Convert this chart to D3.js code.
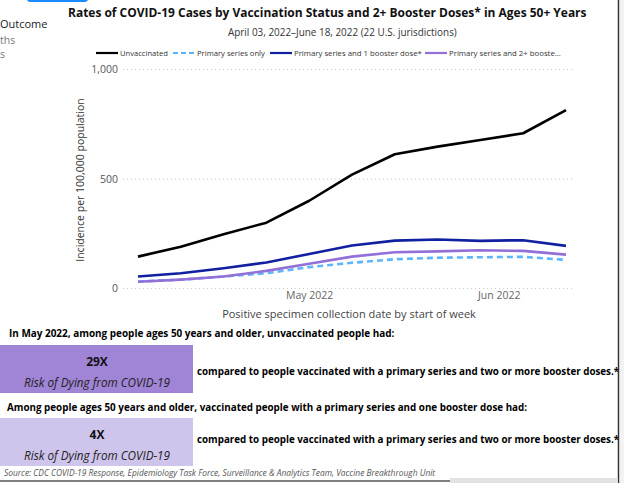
<!DOCTYPE html>
<html>
<head>
<meta charset="utf-8">
<script src="https://cdn.jsdelivr.net/npm/d3@7"></script>
<style>
  body { margin: 0; background: #fff; }
  svg { display: block; font-family: "Open Sans", sans-serif; }
</style>
</head>
<body>
<div id="chart"></div>
<script>
// week start dates (Sunday) of the MMWR weeks shown
var weeks = ["2022-04-03", "2022-04-10", "2022-04-17", "2022-04-24", "2022-05-01", "2022-05-08",
             "2022-05-15", "2022-05-22", "2022-05-29", "2022-06-05", "2022-06-12"];
var unvaccinated = [146, 191, 248, 301, 401, 520, 613, 648, 678, 709, 815];
var primaryOnly  = [32, 41, 55, 70, 98, 118, 134, 141, 143, 145, 131];
var oneBooster   = [55, 70, 93, 119, 158, 197, 219, 224, 218, 221, 195];
var twoBooster   = [31, 41, 55, 81, 113, 146, 166, 170, 175, 172, 155];
var seriesNames  = ["Unvaccinated", "Primary series only", "Primary series and 1 booster dose*", "Primary series and 2+ booste..."];
var yTicks = [0, 500, 1000];
var xTicks = ["2022-05-01", "2022-06-01"];

var W = 624, H = 483;
var parse = d3.timeParse("%Y-%m-%d");
var dates = weeks.map(parse);

var svg = d3.select("#chart").append("svg")
    .attr("width", W)
    .attr("height", H);

// squeeze/stretch a text to the width it has in the picture
function fit(t, w) {
    var len = t.node().getComputedTextLength();
    var fs = parseFloat(t.style("font-size"));
    t.style("font-size", (fs * w / len) + "px");
    return t;
}

// bits of the screenshot frame (a slicer cut off at the left edge)
svg.append("rect").attr("x", 27).attr("y", -4).attr("width", 61).attr("height", 6)
    .attr("rx", 3).attr("fill", "#1a8cff");
svg.append("text").attr("x", 0).attr("y", 28)
    .style("font-size", "11px").style("fill", "#222").text("Outcome");
svg.append("text").attr("x", 0).attr("y", 44)
    .style("font-size", "10.5px").style("fill", "#777").text("ths");
svg.append("text").attr("x", 0).attr("y", 58)
    .style("font-size", "10.5px").style("fill", "#777").text("s");

// titles
fit(svg.append("text").attr("x", 68).attr("y", 17)
    .style("font-size", "14px").style("font-weight", "bold").style("fill", "#111")
    .text("Rates of COVID-19 Cases by Vaccination Status and 2+ Booster Doses* in Ages 50+ Years"), 519);
fit(svg.append("text").attr("x", 228).attr("y", 36)
    .style("font-size", "11px").style("fill", "#333")
    .text("April 03, 2022\u2013June 18, 2022 (22 U.S. jurisdictions)"), 229);

var x = d3.scaleTime().domain([dates[0], dates[dates.length - 1]]).range([138, 566]);
var y = d3.scaleLinear().domain([0, 1000]).range([288.6, 69.5]);

// gridlines
svg.append("g").selectAll("line")
    .data(yTicks)
    .enter()
    .append("line")
    .attr("x1", 123).attr("x2", 573)
    .attr("y1", function (d) { return y(d); })
    .attr("y2", function (d) { return y(d); })
    .attr("stroke", "#c8c8c8")
    .attr("stroke-width", 1)
    .attr("stroke-dasharray", "1,3");

// y axis
var yAxis = svg.append("g")
    .attr("transform", "translate(118,0)")
    .call(d3.axisLeft(y).tickValues(yTicks).tickSize(0).tickPadding(0).tickFormat(d3.format(",")));
yAxis.select(".domain").remove();
yAxis.selectAll("text").style("font-size", "10.5px").style("fill", "#555").style("font-family", "Open Sans");

svg.append("text")
    .attr("transform", "translate(84,180) rotate(-90)")
    .attr("text-anchor", "middle")
    .style("font-size", "10.5px").style("fill", "#333")
    .text("Incidence per 100,000 population");

// x axis
var xAxis = svg.append("g")
    .attr("transform", "translate(0,292)")
    .call(d3.axisBottom(x).tickValues(xTicks.map(parse)).tickSize(0).tickPadding(0).tickFormat(d3.timeFormat("%b %Y")));
xAxis.select(".domain").remove();
xAxis.selectAll("text").style("font-size", "10.5px").style("fill", "#666").style("font-family", "Open Sans");

svg.append("text")
    .attr("x", 349).attr("y", 318)
    .attr("text-anchor", "middle")
    .style("font-size", "11px").style("fill", "#444")
    .text("Positive specimen collection date by start of week");

// lines
var series = [
    { values: unvaccinated, color: "#000000", dash: null },
    { values: primaryOnly, color: "#5db5fb", dash: "6,4" },
    { values: oneBooster, color: "#1020a0", dash: null },
    { values: twoBooster, color: "#9270d8", dash: null }
];
var line = d3.line()
    .x(function (d, i) { return x(dates[i]); })
    .y(function (d) { return y(d); });

svg.append("g").selectAll("path")
    .data([series[1], series[3], series[2], series[0]])
    .enter()
    .append("path")
    .attr("d", function (d) { return line(d.values); })
    .attr("fill", "none")
    .attr("stroke", function (d) { return d.color; })
    .attr("stroke-width", 2.6)
    .attr("stroke-dasharray", function (d) { return d.dash; })
    .attr("stroke-linejoin", "round");

// legend
var legX = [96, 173, 270, 425];
var legTextW = [48, 68, 128, 112];
var leg = svg.append("g").selectAll("g")
    .data(series)
    .enter()
    .append("g")
    .attr("transform", function (d, i) { return "translate(" + legX[i] + ",53)"; });
leg.append("line")
    .attr("x1", 0).attr("x2", 22)
    .attr("stroke", function (d) { return d.color; })
    .attr("stroke-width", 2.2)
    .attr("stroke-dasharray", function (d) { return d.dash ? "5,3" : null; });
leg.append("text")
    .attr("x", 24).attr("y", 3)
    .style("font-size", "9.5px").style("fill", "#333")
    .text(function (d, i) { return seriesNames[i]; })
    .each(function (d, i) { fit(d3.select(this), legTextW[i]); });

// statements below the chart
function bold(txt, x0, y0, w) {
    return fit(svg.append("text").attr("x", x0).attr("y", y0)
        .style("font-size", "11px").style("font-weight", "bold").style("fill", "#000")
        .text(txt), w);
}
bold("In May 2022, among people ages 50 years and older, unvaccinated people had:", 9, 337, 386);
bold("compared to people vaccinated with a primary series and two or more booster doses.*", 197, 375, 423);
bold("Among people ages 50 years and older, vaccinated people with a primary series and one booster dose had:", 7, 411, 521);
bold("compared to people vaccinated with a primary series and two or more booster doses.*", 197, 443, 423);

var ratios = ["29X", "4X"];
var boxY = [345, 418];
var boxH = [48, 48];
var boxColors = ["#a084d5", "#cfc4ec"];
var boxes = svg.append("g").selectAll("g")
    .data(ratios)
    .enter()
    .append("g");
boxes.append("rect")
    .attr("x", 0)
    .attr("y", function (d, i) { return boxY[i]; })
    .attr("width", 193)
    .attr("height", function (d, i) { return boxH[i]; })
    .attr("fill", function (d, i) { return boxColors[i]; });
boxes.append("text")
    .attr("x", 97)
    .attr("y", function (d, i) { return boxY[i] + 21; })
    .attr("text-anchor", "middle")
    .style("font-size", "12px").style("font-weight", "bold").style("fill", "#111")
    .text(function (d) { return d; });
boxes.append("text")
    .attr("x", 97)
    .attr("y", function (d, i) { return boxY[i] + 42; })
    .attr("text-anchor", "middle")
    .style("font-size", "12.5px").style("font-style", "italic").style("fill", "#222")
    .text("Risk of Dying from COVID-19")
    .each(function () { fit(d3.select(this), 146); });

fit(svg.append("text").attr("x", 4).attr("y", 476)
    .style("font-size", "9px").style("font-style", "italic").style("fill", "#555")
    .text("Source: CDC COVID-19 Response, Epidemiology Task Force, Surveillance & Analytics Team, Vaccine Breakthrough Unit"), 432);

// frame edges
svg.append("line").attr("x1", 618.5).attr("x2", 618.5).attr("y1", 0).attr("y2", H)
    .attr("stroke", "#333").attr("stroke-width", 1.5);
svg.append("rect").attr("x", 620).attr("y", 0).attr("width", 4).attr("height", H).attr("fill", "#f3f3f3");
svg.append("line").attr("x1", 0).attr("x2", 450).attr("y1", 481).attr("y2", 481)
    .attr("stroke", "#555").attr("stroke-width", 1.5);
svg.append("rect").attr("x", 450).attr("y", 478).attr("width", 168).attr("height", 5).attr("fill", "#e2e2e2");
</script>
</body>
</html>
